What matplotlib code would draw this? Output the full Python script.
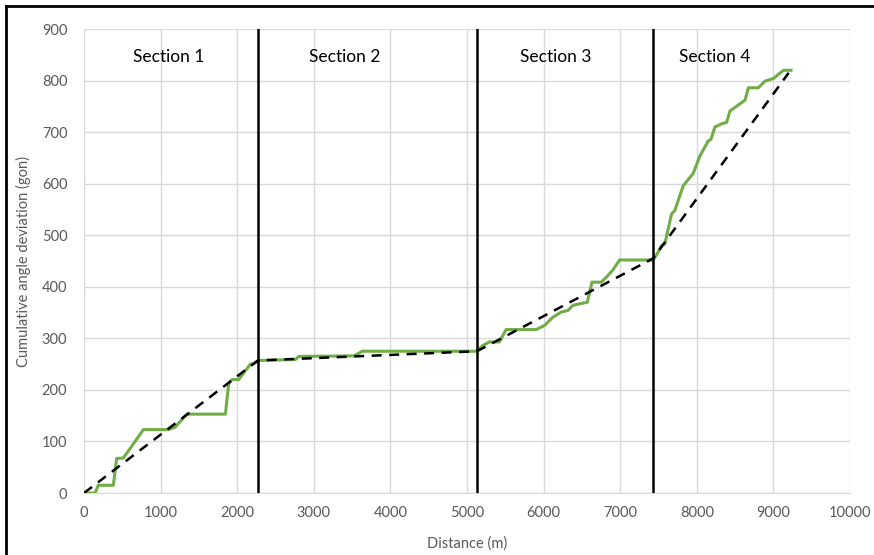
import matplotlib.pyplot as plt
from matplotlib.lines import Line2D

# measured curve (distance m, cumulative angle gon)
dist = [0, 144, 187, 383, 427, 515, 776, 1104, 1191, 1343, 1846, 1889, 1932,
        2019, 2173, 2216, 2280, 2762, 2805, 3525, 3634, 5130, 5205, 5292,
        5423, 5510, 5663, 5903, 6012, 6121, 6230, 6318, 6383, 6470, 6571,
        6632, 6754, 6841, 6906, 6993, 7430, 7495, 7539, 7583, 7670, 7713,
        7823, 7910, 7954, 8041, 8150, 8185, 8237, 8325, 8390, 8433, 8630,
        8673, 8804, 8891, 9001, 9132, 9230]
angle = [0, 0, 15, 15, 67, 68, 123, 123, 128, 153, 153, 212, 220,
         220, 250, 251, 257, 259, 265, 266, 275, 275, 286, 293,
         293, 317, 317, 317, 325, 341, 351, 354, 364, 367, 370,
         409, 409, 422, 433, 452, 452, 467, 480, 483, 541, 548,
         596, 612, 620, 654, 683, 686, 710, 716, 719, 741, 762,
         786, 786, 799, 804, 820, 820]

# piecewise linear trend
trend_x = [0, 2270, 5130, 7430, 9200]
trend_y = [0, 257, 275, 455, 815]

section_bounds = [2270, 5130, 7430]
section_names = ["Section 1", "Section 2", "Section 3", "Section 4"]
section_label_x = [1100, 3400, 6160, 8240]

plt.rcParams['font.family'] = ['Lato', 'DejaVu Sans']

fig = plt.figure(figsize=(8.74, 5.55), dpi=100)
ax = fig.add_axes([0.0961, 0.1117, 0.8764, 0.836])

grid_col = '#d9d9d9'
txt_col = '#595959'

ax.plot(dist, angle, color='#70ad47', lw=2.2, zorder=3)
ax.plot(trend_x, trend_y, color='black', lw=1.8, dashes=(4, 3), zorder=4)
for b in section_bounds:
    ax.axvline(b, color='black', lw=1.8, zorder=5)
for name, x in zip(section_names, section_label_x):
    ax.text(x, 846, name, ha='center', va='center', fontsize=12.5, color='black')

ax.set_xlim(0, 10000)
ax.set_ylim(0, 900)
ax.set_xticks(range(0, 10001, 1000))
ax.set_yticks(range(0, 901, 100))
ax.grid(True, color=grid_col, lw=1)
ax.set_axisbelow(True)
for s in ['top', 'right', 'left']:
    ax.spines[s].set_visible(False)
ax.spines['bottom'].set_color(grid_col)
ax.tick_params(length=0, labelsize=10.5, colors=txt_col, pad=9)
ax.tick_params(axis='y', pad=12)
ax.set_xlabel('Distance (m)', fontsize=10.5, color=txt_col, labelpad=12)
ax.set_ylabel('Cumulative angle deviation (gon)', fontsize=10.5, color=txt_col, labelpad=8)

# screenshot frame on top and left
fig.add_artist(Line2D([6 / 874, 1], [1 - 6 / 555, 1 - 6 / 555], color='black', lw=2, transform=fig.transFigure))
fig.add_artist(Line2D([6 / 874, 6 / 874], [0, 1 - 6 / 555], color='black', lw=2, transform=fig.transFigure))

fig.savefig('out.png', dpi=100)
